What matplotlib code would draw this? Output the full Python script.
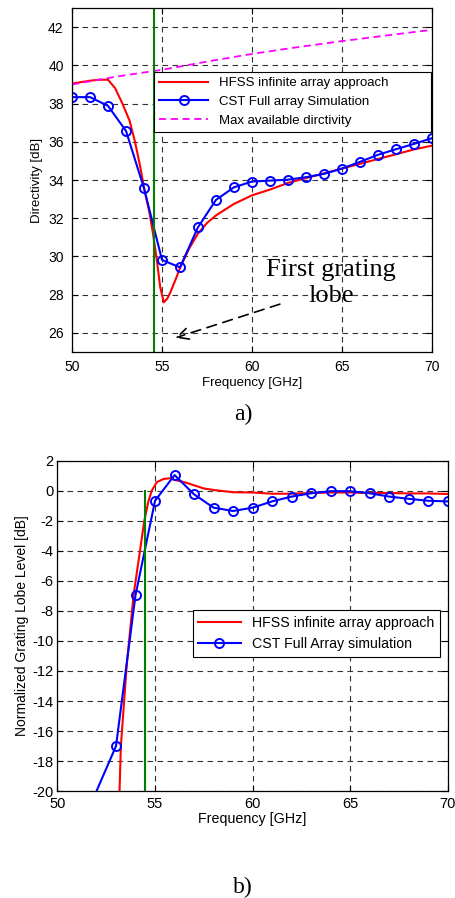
import numpy as np
import matplotlib
matplotlib.use('Agg')
import matplotlib.pyplot as plt

plt.rcParams['font.family'] = ['Liberation Sans', 'DejaVu Sans']
plt.rcParams['axes.unicode_minus'] = False

# ---- panel a) directivity ----
hfss_a_f = [50, 51, 51.5, 52, 52.4, 52.8, 53.2, 53.5, 53.8, 54.0, 54.3, 54.5, 54.7,
            54.9, 55.1, 55.3, 55.5, 55.8, 56.0, 56.5, 57.0, 57.5, 58, 59, 60, 61,
            62, 63, 64, 65, 66, 67, 68, 69, 70]
hfss_a_d = [39.05, 39.2, 39.25, 39.25, 38.8, 38.0, 37.1, 36.0, 34.65, 33.6, 32.3, 31.2,
            29.9, 28.4, 27.6, 27.8, 28.2, 28.9, 29.4, 30.4, 31.2, 31.75, 32.15, 32.75,
            33.2, 33.5, 33.85, 34.1, 34.35, 34.6, 34.85, 35.1, 35.35, 35.6, 35.8]
cst_a_f = list(range(50, 71))
cst_a_d = [38.34, 38.34, 37.88, 36.57, 33.57, 29.82, 29.43, 31.53, 32.96, 33.62, 33.92,
           33.97, 34.02, 34.15, 34.32, 34.6, 34.95, 35.32, 35.61, 35.89, 36.19]
max_f = [50, 52.5, 55, 57.5, 60, 62.5, 65, 67.5, 70]
max_d = [39.0, 39.42, 39.77, 40.2, 40.6, 40.95, 41.27, 41.57, 41.86]
cutoff_a = 54.55

# ---- panel b) grating lobe level ----
hfss_b_f = [53.18, 53.25, 53.55, 53.9, 54.24, 54.45, 54.66, 54.83, 55.09, 55.43, 55.77,
            56.0, 56.5, 57.0, 57.5, 58, 59, 60, 61, 62, 63, 64, 65, 66, 67, 68, 69, 70]
hfss_b_g = [-20, -17, -11.6, -6.95, -3.9, -2.0, -0.7, 0.0, 0.57, 0.78, 0.83, 0.72, 0.57,
            0.36, 0.15, 0.05, -0.1, -0.12, -0.2, -0.2, -0.15, -0.12, -0.12, -0.15, -0.15,
            -0.18, -0.18, -0.22]
cst_b_f = list(range(52, 71))
cst_b_g = [-20.0, -17.0, -6.95, -0.67, 1.04, -0.24, -1.13, -1.35, -1.13, -0.71, -0.39,
           -0.17, -0.03, -0.03, -0.17, -0.39, -0.54, -0.67, -0.71]
cutoff_b = 54.5

gridstyle = dict(color='0.2', linestyle=(0, (5, 4)), linewidth=0.8)


def style(ax, xpad, ypad, size):
    ax.grid(True, **gridstyle)
    ax.tick_params(direction='in', top=True, right=True, labelsize=size, length=4)
    ax.tick_params(axis='x', pad=xpad)
    ax.tick_params(axis='y', pad=ypad)
    for s in ax.spines.values():
        s.set_linewidth(0.9)


fig = plt.figure(figsize=(4.56, 8.98), dpi=100)

ax1 = fig.add_axes([0.158, 0.608, 0.789, 0.383])
ax1.plot(hfss_a_f, hfss_a_d, color='red', lw=1.5, label='HFSS infinite array approach')
ax1.plot(cst_a_f, cst_a_d, color='blue', lw=1.5, marker='o', ms=6.5, mfc='none',
         mew=1.4, label='CST Full array Simulation')
ax1.plot(max_f, max_d, color='magenta', lw=1.3, ls=(0, (4, 2.5)),
         label='Max available dirctivity')
ax1.axvline(cutoff_a, color='green', lw=1.5)
ax1.set_xlim(50, 70)
ax1.set_ylim(25, 43)
ax1.set_xticks([50, 55, 60, 65, 70])
ax1.set_yticks(np.arange(26, 43, 2))
ax1.set_xlabel('Frequency [GHz]', fontsize=9.5, labelpad=2)
ax1.set_ylabel('Directivity [dB]', fontsize=9.5, labelpad=4)
style(ax1, 6, 6, 10)
# legend box is wider than its contents, as in the original figure
leg = ax1.legend(loc='upper left', bbox_to_anchor=(0.228, 0.628, 0.769, 0.187),
                 mode='expand', fontsize=9.5, fancybox=False, framealpha=1,
                 edgecolor='black', handlelength=3.7, borderaxespad=0, labelspacing=0.5)
leg.get_frame().set_linewidth(0.8)
ax1.annotate('', xy=(55.6, 25.7), xytext=(61.7, 27.55),
             arrowprops=dict(arrowstyle='->', color='black', lw=1.2,
                             linestyle=(0, (6, 4)), mutation_scale=20))
ax1.text(64.4, 28.6, 'First grating\nlobe', family='Liberation Serif', fontsize=19,
         ha='center', va='center', linespacing=1.25)

fig.text(0.533, 0.538, 'a)', family='Liberation Serif', fontsize=17,
         ha='center', va='center')

ax2 = fig.add_axes([0.126, 0.119, 0.856, 0.368])
ax2.plot(hfss_b_f, hfss_b_g, color='red', lw=1.5, label='HFSS infinite array approach')
ax2.plot(cst_b_f, cst_b_g, color='blue', lw=1.5, marker='o', ms=6.5, mfc='none',
         mew=1.4, markevery=slice(1, None), label='CST Full Array simulation')
ax2.plot([cutoff_b, cutoff_b], [0, -20], color='green', lw=1.5)
ax2.set_xlim(50, 70)
ax2.set_ylim(-20, 2)
ax2.set_xticks([50, 55, 60, 65, 70])
ax2.set_yticks(np.arange(-20, 3, 2))
ax2.set_xlabel('Frequency [GHz]', fontsize=10.3, labelpad=1)
ax2.set_ylabel('Normalized Grating Lobe Level [dB]', fontsize=10, labelpad=2)
style(ax2, 4, 3, 10.5)
leg2 = ax2.legend(loc='upper right', bbox_to_anchor=(0.98, 0.547), fontsize=10.2,
                  fancybox=False, framealpha=1, edgecolor='black', handlelength=3.0,
                  borderaxespad=0, labelspacing=0.5)
leg2.get_frame().set_linewidth(0.8)

fig.text(0.533, 0.012, 'b)', family='Liberation Serif', fontsize=17,
         ha='center', va='center')

fig.savefig('out.png', dpi=100)
